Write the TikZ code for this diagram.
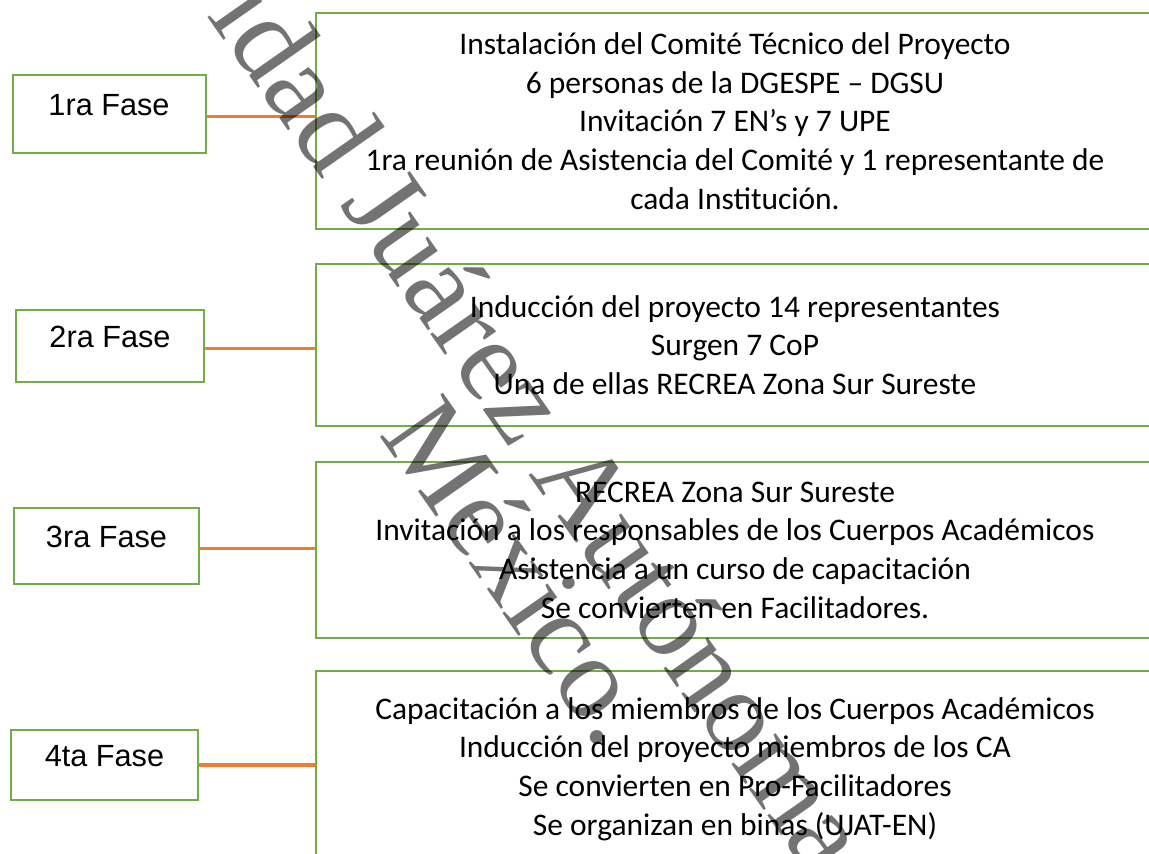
\documentclass[tikz,border=0pt]{standalone}
\usepackage{fontspec}
\setmainfont{Carlito}
\newfontfamily\arialfont{Liberation Sans}
\newfontfamily\serifmark{Liberation Serif}
\usetikzlibrary{calc}
\usetikzlibrary{positioning}

\definecolor{verde}{HTML}{70AD47}
\definecolor{naranja}{HTML}{ED7D31}

\tikzset{
  fase/.style={draw=verde,line width=1.5pt,rectangle,inner sep=0pt,
    font=\arialfont\fontsize{23}{27}\selectfont,text height=16pt,text depth=14pt},
  detalle/.style={draw=verde,line width=1.5pt,rectangle,inner sep=0pt,align=center,
    minimum width=628.5pt,font=\fontsize{23.6}{29}\selectfont},
  enlace/.style={draw=naranja,line width=2.6pt},
  marca/.style={font=\serifmark\fontsize{88}{88}\selectfont,text=black,text opacity=0.55,
    rotate=-55,anchor=base west,inner sep=0pt}
}

\begin{document}
\begin{tikzpicture}[x=0.75pt,y=-0.75pt]

  \useasboundingbox (0,0) rectangle (1149,853);
  \clip (0,0) rectangle (1149,853);

  \node [fase,minimum width=144.75pt,minimum height=58.5pt] (f1) at (109,114) {1ra Fase};
  \node [fase,minimum width=141pt,minimum height=54pt] (f2) at (110,346) {2ra Fase};
  \node [fase,minimum width=139pt,minimum height=57pt] (f3) at (106.5,546) {3ra Fase};
  \node [fase,minimum width=140pt,minimum height=53pt] (f4) at (104.5,765) {4ta Fase};

  \node [detalle,minimum height=162pt] (d1) at (735,121) {
    Instalación del Comité Técnico del Proyecto\\
    6 personas de la DGESPE – DGSU\\
    Invitación 7 EN’s y 7 UPE\\
    1ra reunión de Asistencia del Comité y 1 representante de\\
    cada Institución.};
  \node [detalle,minimum height=121.5pt] (d2) at (735,345) {
    Inducción del proyecto 14 representantes\\
    Surgen 7 CoP\\
    Una de ellas RECREA Zona Sur Sureste};
  \node [detalle,minimum height=132pt] (d3) at (735,550) {
    RECREA Zona Sur Sureste\\
    Invitación a los responsables de los Cuerpos Académicos\\
    Asistencia a un curso de capacitación\\
    Se convierten en Facilitadores.};
  \node [detalle,minimum height=147pt] (d4) at (735,769) {
    Capacitación a los miembros de los Cuerpos Académicos\\
    Inducción del proyecto miembros de los CA\\
    Se convierten en Pro-Facilitadores\\
    Se organizan en binas (UJAT-EN)};

  \draw [enlace] ([yshift=-2pt]f1.east) -- ([yshift=-2pt]f1.east -| d1.west);
  \draw [enlace] ([yshift=-2pt]f2.east) -- ([yshift=-2pt]f2.east -| d2.west);
  \draw [enlace] ([yshift=-2pt]f3.east) -- ([yshift=-2pt]f3.east -| d3.west);
  \draw [enlace] (f4.east) -- (f4.east -| d4.west);

  \node [marca] (m1) at (206.7,14.8) {idad Juárez Autónoma};
  \node [marca] (m2) at (378.4,434.6) {México.};

\end{tikzpicture}
\end{document}
